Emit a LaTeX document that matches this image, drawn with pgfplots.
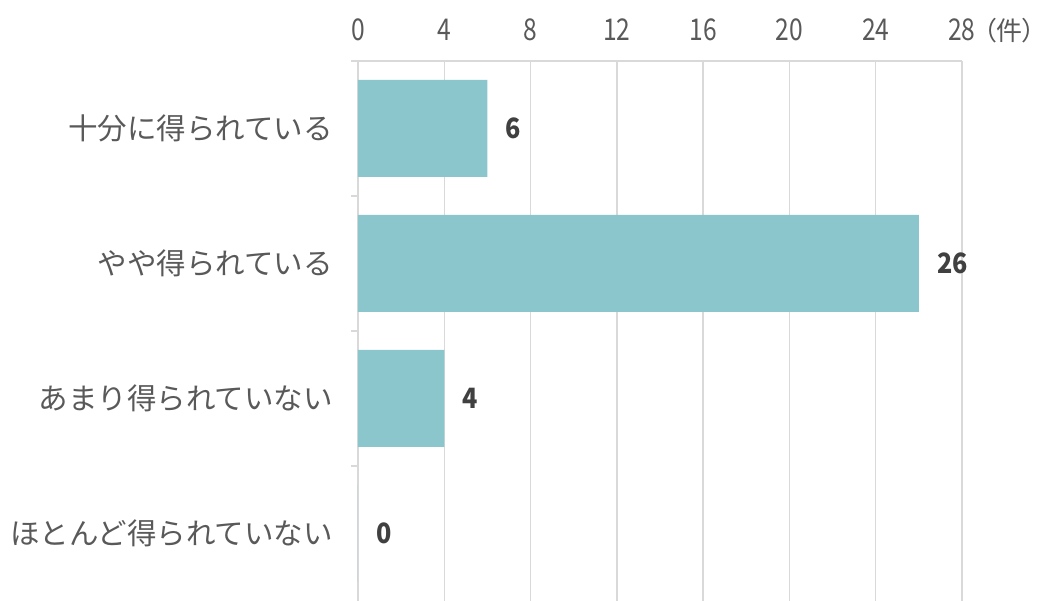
\documentclass[border=0pt]{standalone}
\usepackage{fontspec}
\setmainfont{Noto Sans CJK JP}
\newfontfamily\numfont[FakeStretch=0.82]{Noto Sans CJK JP}
\newfontfamily\valfont[FakeStretch=0.9]{Noto Sans CJK JP}
\newfontfamily\propfont[RawFeature=+palt]{Noto Sans CJK JP}
\usepackage{pgfplots}
\pgfplotsset{compat=1.18}
\definecolor{barc}{RGB}{139,198,205}
\definecolor{gridc}{RGB}{217,217,217}
\definecolor{labc}{RGB}{89,89,89}
\definecolor{valc}{RGB}{64,64,64}

\begin{document}
\begin{tikzpicture}
\begin{axis}[
  scale only axis, width=604pt, height=540pt,
  /pgf/number format/assume math mode=true,
  xbar, bar width=97pt,
  xmin=0, xmax=28, xtick={0,4,...,28},
  ymin=-0.5, ymax=3.5,
  ytick={0,1,2,3},
  yticklabels={ほとんど得られていない, あまり得られていない, やや得られている, 十分に得られている},
  separate axis lines,
  axis x line*=top, axis y line*=left,
  axis line style={draw=gridc, line width=1.5pt, -},
  xmajorgrids, grid style={draw=gridc, line width=1.5pt},
  xtick style={draw=none},
  ytick style={draw=none},
  major tick length=7pt,
  extra y ticks={0.5,1.5,2.5,3.5},
  extra y tick labels={},
  extra y tick style={tick align=outside, ytick style={draw=gridc, line width=1.5pt}, grid=none},
  xticklabel style={font=\numfont\fontsize{30}{30}\selectfont, text=labc, inner sep=0pt, yshift=20pt},
  yticklabel style={font=\fontsize{29.5}{30}\selectfont, text=labc, inner sep=0pt, xshift=-18pt},
  point meta=x,
  nodes near coords,
  nodes near coords style={font=\valfont\bfseries\fontsize{28}{28}\selectfont, text=valc, anchor=west, inner sep=0pt, xshift=18pt},
  clip=false,
]
\addplot[fill=barc, draw=none] coordinates {(6,3) (26,2) (4,1) (0,0)};
\coordinate (tl) at (rel axis cs:0,1);
\node[anchor=base west, inner sep=0pt, font=\propfont\fontsize{26}{26}\selectfont, text=labc]
  at ([xshift=21pt, yshift=20pt]rel axis cs:1,1) {（件）};
\end{axis}
\pgfresetboundingbox
\path (tl) ++(-358pt,61pt) rectangle ++(1045pt,-601pt);
\end{tikzpicture}
\end{document}
